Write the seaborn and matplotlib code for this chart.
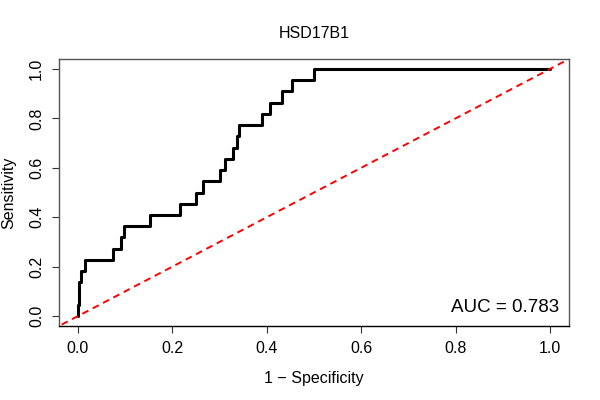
import matplotlib
matplotlib.use("Agg")
import matplotlib.pyplot as plt
import seaborn as sns
import pandas as pd

# ROC vertices (1 - specificity, sensitivity)
fpr = [0.000, 0.000, 0.003, 0.007, 0.015, 0.074, 0.091, 0.097, 0.152, 0.217,
       0.251, 0.264, 0.300, 0.311, 0.328, 0.337, 0.342, 0.390, 0.407, 0.432,
       0.454, 0.500, 1.000]
tpr = [0.000, 0.045, 0.136, 0.182, 0.227, 0.273, 0.318, 0.364, 0.409, 0.455,
       0.500, 0.545, 0.591, 0.636, 0.682, 0.727, 0.773, 0.818, 0.864, 0.909,
       0.955, 1.000, 1.000]
diag = [-0.1, 1.1]
title = "HSD17B1"
auc_text = "AUC = 0.783"
ticks = [0.0, 0.2, 0.4, 0.6, 0.8, 1.0]

sns.set_theme(style="white")
plt.rcParams['font.family'] = ['Liberation Sans', 'DejaVu Sans']
plt.rcParams['text.color'] = 'black'
plt.rcParams['axes.labelcolor'] = 'black'
plt.rcParams['xtick.color'] = 'black'
plt.rcParams['ytick.color'] = 'black'

fig = plt.figure(figsize=(6, 4), dpi=100)
ax = fig.add_axes([59/600, 1-326/400, (569-59)/600, (326-59)/400])

df = pd.DataFrame({"fpr": fpr, "tpr": tpr})
sns.lineplot(data=df, x="fpr", y="tpr", estimator=None, sort=False,
             drawstyle="steps-post", color="black", linewidth=2.2, ax=ax)
sns.lineplot(x=diag, y=diag, color="red", linewidth=1.4, linestyle=(0, (3.5, 2.5)),
             estimator=None, ax=ax)

ax.set_xlim(-0.04, 1.04)
ax.set_ylim(-0.04, 1.04)
ax.set_xticks(ticks)
ax.set_yticks(ticks)
ax.set_xticklabels([f"{t:.1f}" for t in ticks], fontsize=11.5)
ax.set_yticklabels([f"{t:.1f}" for t in ticks], fontsize=11.5, rotation=90, va="center")
ax.tick_params(axis="both", which="both", direction="out", length=5.2, width=0.8,
               color="#333333", labelcolor="black", bottom=True, left=True, pad=5.5)
for s in ax.spines.values():
    s.set_color("#555555")
    s.set_linewidth(1.0)
ax.spines["bottom"].set_color("black")

ax.set_xlabel("1 \u2212 Specificity", fontsize=11.5, labelpad=11, color="black")
ax.set_ylabel("Sensitivity", fontsize=11.5, labelpad=9, color="black")
ax.set_title(title, fontsize=11.5, pad=15, color="black")
ax.text(1.019, 0.017, auc_text, ha="right", va="baseline", fontsize=13.5, color="black")

fig.savefig("out.png", dpi=100)
